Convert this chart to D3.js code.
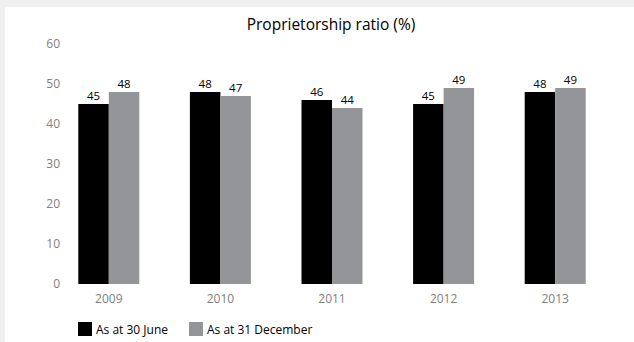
<!DOCTYPE html>
<html>
<head>
<meta charset="utf-8">
<script src="https://cdn.jsdelivr.net/npm/d3@7"></script>
<style>
  body { margin: 0; background: #f0f0f0; }
  svg { display: block; font-family: "Open Sans", sans-serif; }
</style>
</head>
<body>
<svg id="chart" width="634" height="342"></svg>
<script>
var years = ["2009", "2010", "2011", "2012", "2013"];
var june = [45, 48, 46, 45, 48];
var december = [48, 47, 44, 49, 49];
var yTicks = [0, 10, 20, 30, 40, 50, 60];
var seriesNames = ["As at 30 June", "As at 31 December"];
var colors = ["#000000", "#939598"];

var svg = d3.select("#chart");

// white panel
svg.append("rect")
  .attr("x", 5).attr("y", 7)
  .attr("width", 629).attr("height", 335)
  .attr("fill", "#ffffff");

var x = d3.scaleBand()
  .domain(years)
  .range([53, 611])
  .paddingInner(0)
  .paddingOuter(0);

var inner = d3.scaleBand()
  .domain([0, 1])
  .range([x.bandwidth() / 2 - 30.5, x.bandwidth() / 2 + 30.5]);

var y = d3.scaleLinear()
  .domain([0, 60])
  .range([284, 44]);

svg.append("text")
  .attr("x", 331).attr("y", 30)
  .attr("text-anchor", "middle")
  .attr("font-size", 15.5)
  .attr("fill", "#000")
  .text("Proprietorship ratio (%)");

// y axis labels, no line
var yAxis = svg.append("g")
  .attr("transform", "translate(60,0)")
  .call(d3.axisLeft(y).tickValues(yTicks).tickSize(0).tickPadding(0));
yAxis.select(".domain").remove();
yAxis.selectAll("text")
  .attr("font-size", 12)
  .attr("font-family", "Open Sans, sans-serif")
  .attr("fill", "#808080");

// x axis labels
var xAxis = svg.append("g")
  .attr("transform", "translate(0,294)")
  .call(d3.axisBottom(x).tickSize(0).tickPadding(0));
xAxis.select(".domain").remove();
xAxis.selectAll("text")
  .attr("font-size", 12)
  .attr("font-family", "Open Sans, sans-serif")
  .attr("fill", "#808080");

var data = years.map(function(d, i) {
  return { year: d, values: [june[i], december[i]] };
});

var groups = svg.selectAll(".grp")
  .data(data)
  .enter().append("g")
  .attr("class", "grp")
  .attr("transform", function(d) { return "translate(" + x(d.year) + ",0)"; });

groups.selectAll("rect")
  .data(function(d) { return d.values; })
  .enter().append("rect")
  .attr("x", function(d, i) { return inner(i); })
  .attr("y", function(d) { return y(d); })
  .attr("width", inner.bandwidth())
  .attr("height", function(d) { return y(0) - y(d); })
  .attr("fill", function(d, i) { return colors[i]; });

groups.selectAll(".lbl")
  .data(function(d) { return d.values; })
  .enter().append("text")
  .attr("class", "lbl")
  .attr("x", function(d, i) { return inner(i) + inner.bandwidth() / 2; })
  .attr("y", function(d) { return y(d) - 4; })
  .attr("text-anchor", "middle")
  .attr("font-size", 11.5)
  .attr("fill", "#000")
  .text(function(d) { return d; });

// legend
var legendX = [78, 189];
var legend = svg.selectAll(".leg")
  .data(seriesNames)
  .enter().append("g")
  .attr("class", "leg")
  .attr("transform", function(d, i) { return "translate(" + legendX[i] + ",322)"; });

legend.append("rect")
  .attr("width", 14).attr("height", 14)
  .attr("fill", function(d, i) { return colors[i]; });

legend.append("text")
  .attr("x", 18).attr("y", 12)
  .attr("font-size", 12)
  .attr("fill", "#000")
  .text(function(d) { return d; });
</script>
</body>
</html>
